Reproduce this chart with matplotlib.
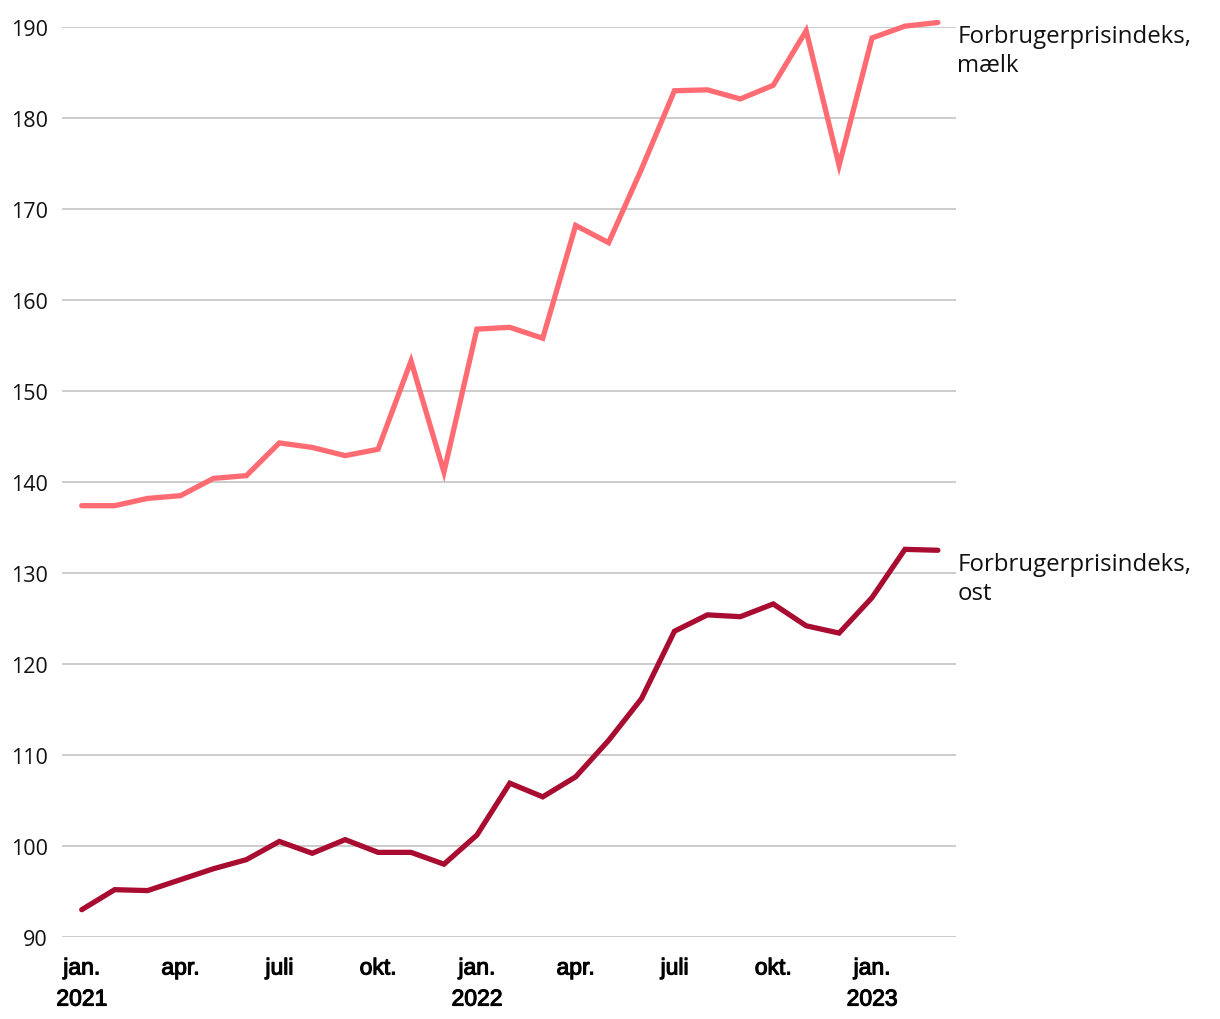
import matplotlib.pyplot as plt
import matplotlib.patheffects as pe

# data: monthly index, jan 2021 - mar 2023
months = list(range(27))
maelk = [137.4, 137.4, 138.2, 138.5, 140.4, 140.7, 144.3, 143.8, 142.9, 143.6, 153.3, 141.1,
         156.8, 157.0, 155.8, 168.2, 166.3, 174.4, 183.0, 183.1, 182.1, 183.6, 189.6, 174.8,
         188.8, 190.1, 190.5]
ost = [93.0, 95.2, 95.1, 96.3, 97.5, 98.5, 100.5, 99.2, 100.7, 99.3, 99.3, 98.0,
       101.2, 106.9, 105.4, 107.6, 111.6, 116.2, 123.6, 125.4, 125.2, 126.6, 124.2, 123.4,
       127.3, 132.6, 132.5]
series_labels = ['Forbrugerprisindeks,\nmælk', 'Forbrugerprisindeks,\nost']
tick_pos = [0, 3, 6, 9, 12, 15, 18, 21, 24]
tick_labels = ['jan.\n2021', 'apr.', 'juli', 'okt.', 'jan.\n2022', 'apr.', 'juli', 'okt.', 'jan.\n2023']
yticks = [90, 100, 110, 120, 130, 140, 150, 160, 170, 180, 190]

fig = plt.figure(figsize=(12.2, 10.2), dpi=100)
ax = fig.add_axes([0.0508, 0.0804, 0.7328, 0.8921])

ax.plot(months, maelk, color='#ff6b72', lw=3.8, solid_capstyle='round', solid_joinstyle='miter',
        zorder=3, clip_on=False)
ax.plot(months, ost, color='#a80c30', lw=3.8, solid_capstyle='round', solid_joinstyle='miter',
        zorder=3, clip_on=False)

ax.set_ylim(90, 190)
ax.set_xlim(-0.6, 26.55)
ax.set_yticks(yticks)
ax.set_yticklabels([str(v) for v in yticks], fontfamily='Open Sans', fontsize=15.5, color='#111111')
ax.set_xticks(tick_pos)
ax.set_xticklabels(tick_labels, fontfamily='Liberation Sans', fontsize=16.5, color='black',
                   linespacing=1.45)
# the reference tick labels are a bit heavier than Liberation regular
for t in ax.get_xticklabels():
    t.set_path_effects([pe.withStroke(linewidth=0.8, foreground='black')])
ax.tick_params(axis='both', length=0)
ax.tick_params(axis='y', pad=10)
ax.tick_params(axis='x', pad=14)
ax.grid(axis='y', color='#c4c4c4', lw=1.2)
ax.set_axisbelow(True)
for s in ax.spines.values():
    s.set_visible(False)

# direct labels at line ends
for lab, vals in zip(series_labels, [maelk, ost]):
    ax.annotate(lab, xy=(1.0, vals[-1]), xycoords=('axes fraction', 'data'),
                xytext=(1, -1), textcoords='offset points', ha='left', va='top',
                fontfamily='Open Sans', fontsize=17.3, color='#111111', linespacing=1.3,
                annotation_clip=False)

fig.savefig('out.png', dpi=100)
